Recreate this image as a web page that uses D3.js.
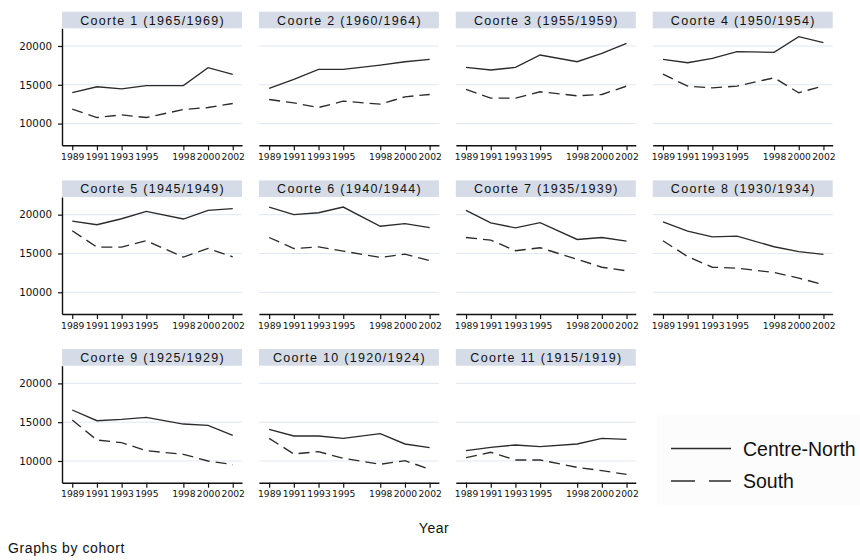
<!DOCTYPE html>
<html>
<head>
<meta charset="utf-8">
<script src="https://cdn.jsdelivr.net/npm/d3@7"></script>
<style>
  html, body { margin: 0; padding: 0; background: #ffffff; }
  svg { display: block; }
  svg text { font-family: "Liberation Sans", Arial, sans-serif; fill: #111; }
</style>
</head>
<body>
<svg id="chart" width="860" height="560"></svg>
<script>
// Survey years (x axis ticks)
const years = [1989, 1991, 1993, 1995, 1998, 2000, 2002];

// Panel titles, one per birth cohort
const cohorts = [
  "Coorte 1 (1965/1969)", "Coorte 2 (1960/1964)", "Coorte 3 (1955/1959)", "Coorte 4 (1950/1954)",
  "Coorte 5 (1945/1949)", "Coorte 6 (1940/1944)", "Coorte 7 (1935/1939)", "Coorte 8 (1930/1934)",
  "Coorte 9 (1925/1929)", "Coorte 10 (1920/1924)", "Coorte 11 (1915/1919)"
];

// Centre-North series, one row per cohort, one value per survey year
const centreNorth = [
  [14000, 14750, 14480, 14900, 14900, 17200, 16350],
  [14530, 15690, 16980, 16980, 17540, 17970, 18280],
  [17240, 16900, 17240, 18840, 17970, 19050, 20340],
  [18280, 17840, 18400, 19270, 19180, 21210, 20430],
  [19180, 18710, 19480, 20430, 19440, 20560, 20780],
  [20980, 20000, 20250, 20980, 18510, 18850, 18340],
  [20550, 18940, 18300, 18980, 16810, 17060, 16600],
  [19060, 17870, 17150, 17230, 15870, 15230, 14890],
  [16570, 15190, 15360, 15620, 14760, 14590, 13300],
  [14080, 13220, 13220, 12920, 13520, 12190, 11720],
  [11330, 11760, 12060, 11850, 12190, 12920, 12790]
];

// South series
const south = [
  [11850, 10780, 11120, 10780, 11810, 12070, 12590],
  [13100, 12670, 12070, 12890, 12500, 13450, 13750],
  [14400, 13280, 13280, 14100, 13580, 13750, 14830],
  [16380, 14830, 14610, 14830, 15900, 13970, 14870],
  [17930, 15820, 15820, 16640, 14530, 15650, 14570],
  [17060, 15640, 15850, 15300, 14490, 14920, 14070],
  [17060, 16720, 15360, 15740, 14260, 13230, 12770],
  [16640, 14600, 13230, 13110, 12550, 11830, 10980],
  [15280, 12700, 12360, 11330, 10860, 10000, 9530],
  [12920, 10900, 11200, 10340, 9570, 10040, 8930],
  [10430, 11120, 10130, 10130, 9180, 8750, 8280]
];

// Y axis tick values and legend labels
const yTicks = [10000, 15000, 20000];
const seriesNames = ["Centre-North", "South"];

const svg = d3.select("#chart");

const ncol = 4;
const panelW = 180, plotH = 117, headH = 16.6;
const colX = c => 62 + c * 196.9;
const rowY = r => 28.3 + r * 168.7;   // top of plot area (under header)

const x = d3.scaleLinear().domain([1988.17, 2002.75]).range([0, panelW]);
const y = d3.scaleLinear().domain([7200, 22280]).range([plotH, 0]);

const lineGen = d3.line()
  .x((d, i) => x(years[i]))
  .y(d => y(d));

const lineColor = "#2b2b2b";
const fontFam = "'Liberation Sans', Arial, sans-serif";
const tickFam = "'DejaVu Sans', Verdana, sans-serif";

cohorts.forEach((name, i) => {
  const r = Math.floor(i / ncol), c = i % ncol;
  const g = svg.append("g").attr("transform", `translate(${colX(c)},${rowY(r)})`);

  // header strip
  g.append("rect")
    .attr("x", 0).attr("y", -headH)
    .attr("width", panelW).attr("height", headH)
    .attr("fill", "#d5dce7");
  g.append("text")
    .attr("x", panelW / 2 + 0.6).attr("y", -headH / 2 + 4.5)
    .attr("text-anchor", "middle")
    .style("font-family", fontFam)
    .style("font-size", "12.5px")
    .style("letter-spacing", "1.3px")
    .text(name);

  // horizontal gridlines
  g.selectAll("line.grid").data(yTicks).join("line")
    .attr("class", "grid")
    .attr("x1", 0).attr("x2", panelW)
    .attr("y1", d => y(d)).attr("y2", d => y(d))
    .attr("stroke", "#e1e7f0").attr("stroke-width", 1);

  // series
  g.append("path")
    .attr("d", lineGen(centreNorth[i]))
    .attr("fill", "none").attr("stroke", lineColor).attr("stroke-width", 1.35);
  g.append("path")
    .attr("d", lineGen(south[i]))
    .attr("fill", "none").attr("stroke", lineColor).attr("stroke-width", 1.35)
    .attr("stroke-dasharray", "11,6");

  // x axis
  const xa = g.append("g").attr("transform", `translate(0,${plotH})`)
    .call(d3.axisBottom(x).tickValues(years).tickFormat(d3.format("d"))
      .tickSize(5).tickSizeOuter(0).tickPadding(3));
  xa.select(".domain").attr("stroke", "#111").attr("stroke-width", 1.4);
  xa.selectAll(".tick line").attr("stroke", "#111").attr("stroke-width", 1.2);
  xa.selectAll(".tick text")
    .style("font-family", tickFam)
    .style("font-size", "9.2px")
    .attr("fill", "#111");

  // y axis on the first column only
  if (c === 0) {
    const ya = g.append("g")
      .call(d3.axisLeft(y).tickValues(yTicks).tickFormat(d3.format("d"))
        .tickSize(4).tickSizeOuter(0).tickPadding(6));
    ya.select(".domain").attr("stroke", "#111").attr("stroke-width", 1.4);
    ya.selectAll(".tick line").attr("stroke", "#111").attr("stroke-width", 1.2);
    ya.selectAll(".tick text")
      .style("font-family", tickFam)
      .style("font-size", "10.3px")
      .attr("fill", "#111");
  }
});

// legend
const lg = svg.append("g");
lg.append("rect").attr("x", 657).attr("y", 415).attr("width", 210).attr("height", 90)
  .attr("fill", "#fcfcfc");
seriesNames.forEach((s, k) => {
  const ly = [448.5, 481][k];
  lg.append("line")
    .attr("x1", 671).attr("x2", 731).attr("y1", ly).attr("y2", ly)
    .attr("stroke", lineColor).attr("stroke-width", 1.4)
    .attr("stroke-dasharray", k === 1 ? "24,14" : null);
  lg.append("text")
    .attr("x", 743).attr("y", ly + 7)
    .style("font-family", fontFam)
    .style("font-size", "19.5px")
    .attr("fill", "#222")
    .text(s);
});

// axis title and note
svg.append("text")
  .attr("x", 434).attr("y", 533)
  .attr("text-anchor", "middle")
  .style("font-family", fontFam)
  .style("font-size", "14px")
  .style("letter-spacing", "0.5px")
  .text("Year");
svg.append("text")
  .attr("x", 8).attr("y", 553)
  .style("font-family", fontFam)
  .style("font-size", "14px")
  .style("letter-spacing", "0.6px")
  .text("Graphs by cohort");
</script>
</body>
</html>
